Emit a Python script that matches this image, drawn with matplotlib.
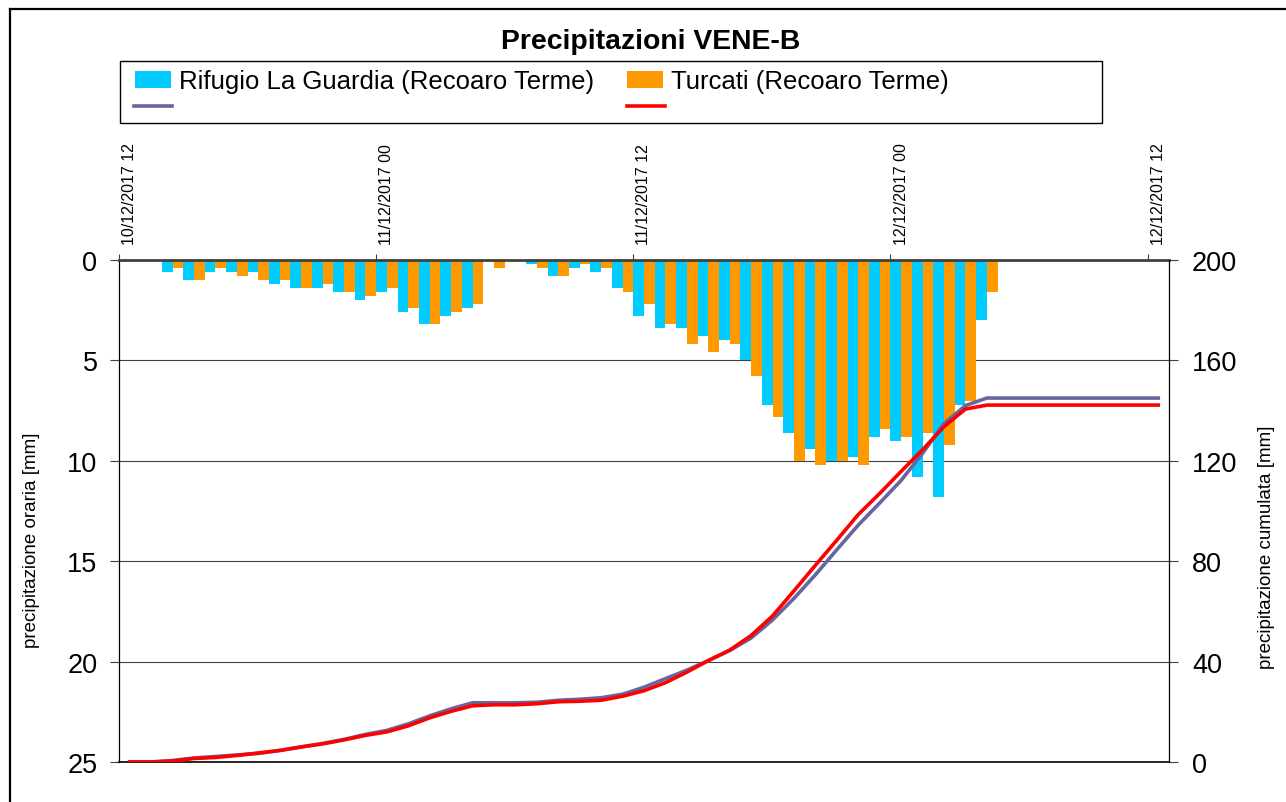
import numpy as np
import matplotlib.pyplot as plt
from matplotlib.lines import Line2D
from matplotlib.patches import Rectangle

plt.rcParams['font.family'] = ['Liberation Sans', 'DejaVu Sans']

W, H = 1286, 803
DPI = 100

# hourly slots from 10/12/2017 12 to 12/12/2017 12
hours = list(range(49))
tick_hours = [0, 12, 24, 36, 48]
tick_labels = ['10/12/2017 12', '11/12/2017 00', '11/12/2017 12',
               '12/12/2017 00', '12/12/2017 12']

# hourly precipitation [mm]
rifugio = [0, 0, 0.6, 1.0, 0.6, 0.6, 0.6, 1.2, 1.4, 1.4, 1.6, 2.0,
           1.6, 2.6, 3.2, 2.8, 2.4, 0, 0, 0.2, 0.8, 0.4, 0.6, 1.4,
           2.8, 3.4, 3.4, 3.8, 4.0, 5.0, 7.2, 8.6, 9.4, 10.0, 9.8, 8.8,
           9.0, 10.8, 11.8, 7.2, 3.0, 0, 0, 0, 0, 0, 0, 0, 0]
turcati = [0, 0, 0.4, 1.0, 0.4, 0.8, 1.0, 1.0, 1.4, 1.2, 1.6, 1.8,
           1.4, 2.4, 3.2, 2.6, 2.2, 0.4, 0, 0.4, 0.8, 0.2, 0.4, 1.6,
           2.2, 3.2, 4.2, 4.6, 4.2, 5.8, 7.8, 10.0, 10.2, 10.0, 10.2, 8.4,
           8.8, 8.6, 9.2, 7.0, 1.6, 0, 0, 0, 0, 0, 0, 0, 0]

# cumulated precipitation [mm]
rifugio_cum = [0, 0, 0.6, 1.6, 2.2, 2.8, 3.4, 4.6, 6.0, 7.4, 9.0, 11.0,
               12.6, 15.2, 18.4, 21.2, 23.6, 23.6, 23.6, 23.8, 24.6, 25.0, 25.6, 27.0,
               29.8, 33.2, 36.6, 40.4, 44.4, 49.4, 56.6, 65.2, 74.6, 84.6, 94.4, 103.2,
               112.2, 123.0, 134.8, 142.0, 145.0, 145.0, 145.0, 145.0, 145.0, 145.0,
               145.0, 145.0, 145.0]
turcati_cum = [0, 0, 0.4, 1.4, 1.8, 2.6, 3.6, 4.6, 6.0, 7.2, 8.8, 10.6,
               12.0, 14.4, 17.6, 20.2, 22.4, 22.8, 22.8, 23.2, 24.0, 24.2, 24.6, 26.2,
               28.4, 31.6, 35.8, 40.4, 44.6, 50.4, 58.2, 68.2, 78.4, 88.4, 98.6, 107.0,
               115.8, 124.4, 133.6, 140.6, 142.2, 142.2, 142.2, 142.2, 142.2, 142.2,
               142.2, 142.2, 142.2]

cyan = '#00CCFF'
orange = '#FF9900'
purple = '#6666A0'
red = '#FF0000'

fig = plt.figure(figsize=(W / DPI, H / DPI), dpi=DPI)
ax = fig.add_axes([119 / W, 1 - 763 / H, 1050 / W, 502 / H])

x = np.array(hours)
ax.bar(x + 0.25, rifugio, width=0.5, color=cyan, linewidth=0, zorder=2)
ax.bar(x + 0.75, turcati, width=0.5, color=orange, linewidth=0, zorder=2)
ax.set_xlim(0, 49)
ax.set_ylim(25, 0)
ax.set_yticks([0, 5, 10, 15, 20, 25])
ax.yaxis.grid(True, color='#404040', linewidth=0.8)
ax.set_axisbelow(True)
ax.tick_params(axis='y', length=6.5, width=0.8, color='#404040', pad=9, labelsize=19.5)

# category axis on top: ticks at slot edges, labels at slot centres
ax.xaxis.tick_top()
ax.set_xticks(tick_hours)
ax.set_xticklabels([])
ax.set_xticks(np.array(tick_hours) + 0.5, minor=True)
ax.set_xticklabels(tick_labels, minor=True, rotation=90, fontsize=11.5)
ax.tick_params(axis='x', which='major', length=4.3, width=0.8, color='#404040')
ax.tick_params(axis='x', which='minor', length=0, pad=11.5)

ax.spines['top'].set_color('#404040')
ax.spines['top'].set_linewidth(2)
ax.spines['left'].set_linewidth(0.9)
ax.spines['bottom'].set_linewidth(1.2)
ax.spines['right'].set_visible(False)
ax.set_ylabel('precipitazione oraria [mm]', fontsize=13.5)
ax.yaxis.set_label_coords(-0.0752, 0.444)

ax2 = ax.twinx()
ax2.plot(x + 0.5, rifugio_cum, color=purple, linewidth=2.6)
ax2.plot(x + 0.5, turcati_cum, color=red, linewidth=2.6)
ax2.set_ylim(0, 200)
ax2.set_yticks(range(0, 201, 40))
ax2.tick_params(axis='y', length=6.5, width=0.8, color='#404040', pad=10, labelsize=19.5)
for s in ['top', 'left', 'bottom']:
    ax2.spines[s].set_visible(False)
ax2.spines['right'].set_linewidth(0.9)
ax2.set_ylabel('precipitazione cumulata [mm]', fontsize=13.5)
ax2.yaxis.set_label_coords(1.0848, 0.43)

# title
fig.text(651 / W, 1 - 42 / H, 'Precipitazioni VENE-B', ha='center', va='center',
         fontsize=20.4, fontweight='bold')

# legend box
fig.add_artist(Rectangle((120 / W, 1 - 124 / H), 982 / W, 62 / H, fill=False,
                         edgecolor='black', linewidth=1, transform=fig.transFigure))
fig.add_artist(Rectangle((135 / W, 1 - 89 / H), 36 / W, 17 / H, facecolor=cyan,
                         linewidth=0, transform=fig.transFigure))
fig.add_artist(Rectangle((627 / W, 1 - 89 / H), 36 / W, 17 / H, facecolor=orange,
                         linewidth=0, transform=fig.transFigure))
fig.text(179 / W, 1 - 82 / H, 'Rifugio La Guardia (Recoaro Terme)', va='center', fontsize=18.5)
fig.text(671 / W, 1 - 82 / H, 'Turcati (Recoaro Terme)', va='center', fontsize=18.5)
fig.add_artist(Line2D([134 / W, 172 / W], [1 - 107 / H] * 2, color=purple, linewidth=2.6,
                      transform=fig.transFigure))
fig.add_artist(Line2D([627 / W, 665 / W], [1 - 107 / H] * 2, color=red, linewidth=2.6,
                      transform=fig.transFigure))

# outer chart border
fig.add_artist(Line2D([10 / W, 1], [1 - 10 / H] * 2, color='black', linewidth=1.6,
                      transform=fig.transFigure))
fig.add_artist(Line2D([10 / W, 10 / W], [0, 1 - 10 / H], color='black', linewidth=1.6,
                      transform=fig.transFigure))

fig.savefig('out.png', dpi=DPI)
